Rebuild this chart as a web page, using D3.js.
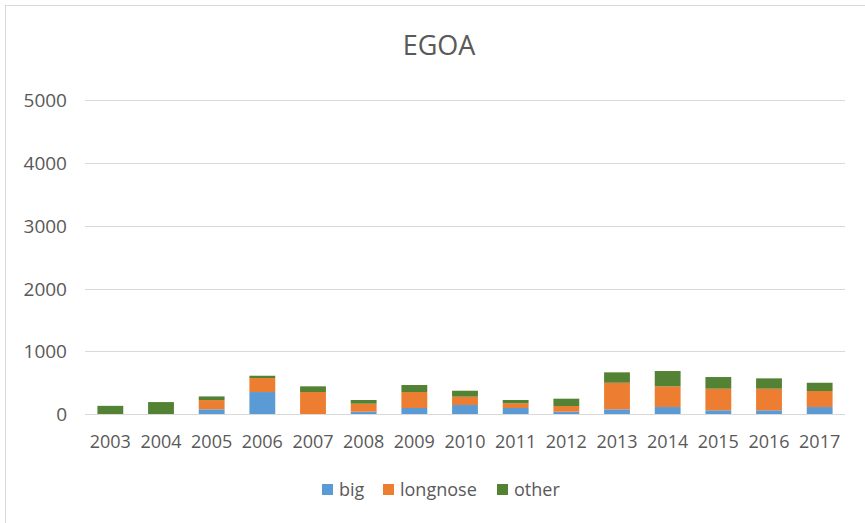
<!DOCTYPE html>
<html>
<head>
<meta charset="utf-8">
<script src="https://cdn.jsdelivr.net/npm/d3@7"></script>
<style>
  body { margin: 0; background: #fff; }
  svg { display: block; font-family: "Open Sans", sans-serif; }
</style>
</head>
<body>
<div id="chart"></div>
<script>
// Data
const years = ['2003', '2004', '2005', '2006', '2007', '2008', '2009', '2010',
               '2011', '2012', '2013', '2014', '2015', '2016', '2017'];
const big      = [0, 0, 75, 350, 0, 37, 96, 143, 96, 37, 75, 111, 59, 59, 111];
const longnose = [0, 0, 147, 223, 350, 127, 254, 133, 74, 90, 423, 330, 344, 344, 255];
const other    = [130, 190, 58, 37, 91, 59, 112, 95, 53, 117, 166, 244, 186, 165, 132];
const seriesNames = ['big', 'longnose', 'other'];
const yTicks = [0, 1000, 2000, 3000, 4000, 5000];

const width = 865;
const height = 523;
const colors = { big: '#5B9BD5', longnose: '#ED7D31', other: '#548235' };

const svg = d3.select('#chart')
    .append('svg')
    .attr('width', width)
    .attr('height', height);

// Chart frame (cropped on right/bottom in the reference)
svg.append('rect')
    .attr('x', 5.5)
    .attr('y', 5.5)
    .attr('width', 900)
    .attr('height', 600)
    .attr('fill', 'none')
    .attr('stroke', '#d9d9d9')
    .attr('stroke-width', 1);

// Title
svg.append('text')
    .attr('x', 439)
    .attr('y', 55)
    .attr('text-anchor', 'middle')
    .attr('fill', '#595959')
    .style('font-size', '27px')
    .text('EGOA');

// Scales
const x = d3.scaleBand()
    .domain(years)
    .range([85, 845])
    .paddingInner(0.49)
    .paddingOuter(0.245);

const y = d3.scaleLinear()
    .domain([0, 5000])
    .range([414, 100.3]);

// Gridlines
svg.append('g')
    .selectAll('line')
    .data(yTicks)
    .enter().append('line')
    .attr('x1', 85)
    .attr('x2', 845)
    .attr('y1', d => Math.round(y(d)) + 0.5)
    .attr('y2', d => Math.round(y(d)) + 0.5)
    .attr('stroke', '#d9d9d9')
    .attr('stroke-width', 1);

// Y labels
svg.append('g')
    .selectAll('text')
    .data(yTicks)
    .enter().append('text')
    .attr('x', 67)
    .attr('y', d => y(d) + 7)
    .attr('text-anchor', 'end')
    .attr('fill', '#595959')
    .style('font-size', '19px')
    .text(d => d);

// Stacked bars
const rows = years.map((yr, i) => ({
    year: yr,
    big: big[i],
    longnose: longnose[i],
    other: other[i]
}));

const stack = d3.stack().keys(seriesNames)(rows);

svg.append('g')
    .selectAll('g')
    .data(stack)
    .enter().append('g')
    .attr('fill', d => colors[d.key])
    .selectAll('rect')
    .data(d => d)
    .enter().append('rect')
    .attr('x', d => x(d.data.year))
    .attr('width', x.bandwidth())
    .attr('y', d => y(d[1]))
    .attr('height', d => y(d[0]) - y(d[1]));

// X labels
svg.append('g')
    .selectAll('text')
    .data(years)
    .enter().append('text')
    .attr('x', d => x(d) + x.bandwidth() / 2)
    .attr('y', 448)
    .attr('text-anchor', 'middle')
    .attr('fill', '#595959')
    .style('font-size', '18px')
    .text(d => d);

// Legend
const legendX = [322, 383, 497];
const legend = svg.append('g')
    .selectAll('g')
    .data(seriesNames)
    .enter().append('g')
    .attr('transform', (d, i) => `translate(${legendX[i]},0)`);

legend.append('rect')
    .attr('x', 0)
    .attr('y', 484)
    .attr('width', 11)
    .attr('height', 11)
    .attr('fill', d => colors[d]);

legend.append('text')
    .attr('x', 17)
    .attr('y', 496)
    .attr('fill', '#595959')
    .style('font-size', '18px')
    .text(d => d);
</script>
</body>
</html>
